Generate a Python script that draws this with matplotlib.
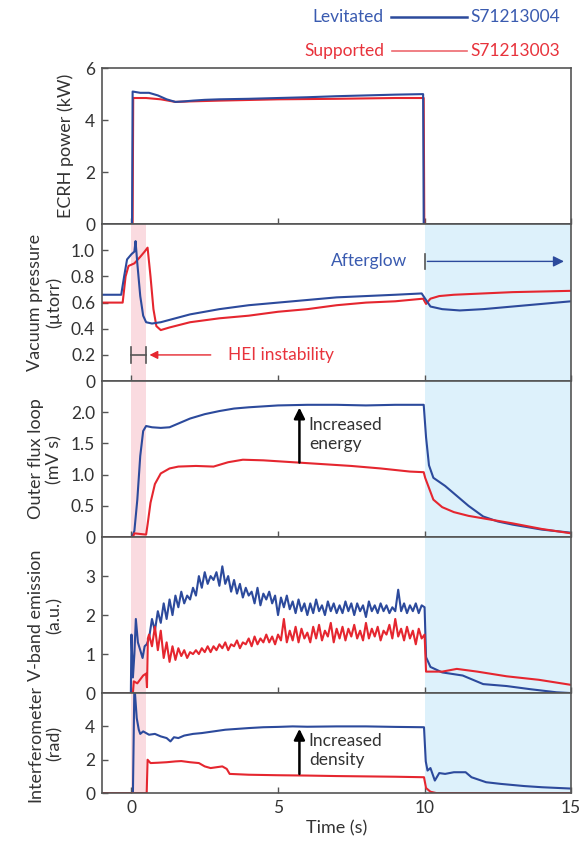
import matplotlib
matplotlib.use("Agg")
import matplotlib.pyplot as plt
from matplotlib.lines import Line2D
import numpy as np

plt.rcParams['font.family'] = ['Lato', 'DejaVu Sans']

BLUE = '#2c4a9c'
RED = '#e5262f'
BLUE_TXT = '#3a5bb0'
RED_TXT = '#e8333c'
GREY = '#555555'
TXT = '#333333'

# ---- ECRH power (kW)
ecrh_t_lev = [-1, 0.02, 0.04, 0.3, 0.6, 0.9, 1.2, 1.5, 1.8, 2.1, 2.5, 3, 4, 5, 6, 7, 8, 9, 9.95, 9.97, 15]
ecrh_lev = [0, 0, 5.1, 5.05, 5.05, 4.95, 4.8, 4.7, 4.72, 4.75, 4.78, 4.8, 4.82, 4.85, 4.88, 4.92, 4.95, 4.98, 5.0, 0, 0]
ecrh_t_sup = [-1, 0.04, 0.06, 0.5, 1.0, 1.5, 2, 3, 5, 7, 9, 9.97, 9.99, 15]
ecrh_sup = [0, 0, 4.85, 4.85, 4.8, 4.7, 4.72, 4.75, 4.8, 4.82, 4.85, 4.85, 0, 0]

# ---- vacuum pressure (utorr)
pres_t_lev = [-1, -0.35, -0.25, -0.15, 0.0, 0.1, 0.14, 0.2, 0.3, 0.4, 0.5, 0.7, 1.0, 1.5, 2, 3, 4, 5, 6, 7, 8, 9,
              9.9, 10.05, 10.2, 10.6, 11.2, 12, 13, 14, 15]
pres_lev = [0.66, 0.66, 0.8, 0.93, 0.97, 0.99, 1.07, 0.9, 0.65, 0.5, 0.45, 0.44, 0.45, 0.48, 0.51, 0.55, 0.58,
            0.6, 0.62, 0.64, 0.65, 0.66, 0.67, 0.62, 0.57, 0.55, 0.54, 0.55, 0.57, 0.59, 0.61]
pres_t_sup = [-1, -0.3, -0.2, -0.1, 0.1, 0.3, 0.45, 0.55, 0.65, 0.75, 0.85, 1.0, 1.3, 2, 3, 4, 5, 6, 7, 8, 9,
              9.95, 10.05, 10.2, 10.5, 11, 12, 13, 14, 15]
pres_sup = [0.6, 0.6, 0.8, 0.88, 0.9, 0.95, 0.99, 1.02, 0.8, 0.55, 0.42, 0.39, 0.41, 0.45, 0.48, 0.5, 0.53,
            0.55, 0.58, 0.6, 0.61, 0.63, 0.59, 0.63, 0.65, 0.66, 0.67, 0.68, 0.685, 0.69]

# ---- outer flux loop (mV s)
flux_t_lev = [-1, 0.02, 0.1, 0.2, 0.3, 0.4, 0.5, 0.7, 1.0, 1.3, 1.6, 2.0, 2.5, 3, 3.5, 4, 5, 6, 7, 8, 9, 9.97,
              10.05, 10.15, 10.3, 10.7, 11.0, 11.5, 12.0, 12.5, 13, 14, 15]
flux_lev = [0, 0, 0.1, 0.6, 1.3, 1.7, 1.78, 1.76, 1.75, 1.76, 1.82, 1.9, 1.97, 2.02, 2.06, 2.08, 2.11, 2.12,
            2.12, 2.11, 2.12, 2.12, 1.6, 1.15, 0.95, 0.82, 0.7, 0.5, 0.33, 0.25, 0.2, 0.12, 0.07]
flux_t_sup = [-1, 0.05, 0.1, 0.5, 0.55, 0.65, 0.8, 1.0, 1.3, 1.6, 2.2, 2.8, 3.3, 3.8, 4.5, 5.5, 6.5, 7.5, 8.5,
              9.5, 9.97, 10.02, 10.1, 10.3, 10.6, 11, 11.5, 12, 12.5, 13, 14, 15]
flux_sup = [0, 0, 0.06, 0.04, 0.2, 0.55, 0.85, 1.02, 1.1, 1.13, 1.14, 1.13, 1.2, 1.24, 1.23, 1.2, 1.17, 1.14,
            1.1, 1.05, 1.04, 0.95, 0.85, 0.6, 0.48, 0.4, 0.34, 0.3, 0.26, 0.22, 0.13, 0.06]

# ---- V-band emission (a.u.)
vb_t_lev_start = [-1, -0.02, 0.0, 0.05, 0.1, 0.15, 0.22, 0.3, 0.38, 0.45, 0.52]
vb_lev_start = [0, 0, 1.5, 0.4, 1.0, 1.9, 1.3, 1.1, 0.9, 1.2, 1.25]
vb_t_mid = [round(0.6 + 0.1 * i, 2) for i in range(95)]
vb_lev_mid = [1.4, 1.9, 1.6, 2.1, 1.8,
              2.3, 1.9, 2.4, 2.0, 2.5, 2.2, 2.6, 2.3, 2.5, 2.4,
              2.7, 2.5, 3.0, 2.7, 3.1, 2.8, 3.0, 2.9, 3.1, 2.75,
              3.25, 2.8, 3.0, 2.6, 2.9, 2.55, 2.8, 2.45, 2.7, 2.5,
              2.6, 2.3, 2.7, 2.25, 2.55, 2.4, 2.6, 2.3, 2.5, 2.0,
              2.45, 2.2, 2.5, 2.15, 2.35, 2.05, 2.4, 2.1, 2.3, 2.0,
              2.3, 2.05, 2.4, 2.1, 2.25, 2.0, 2.35, 2.1, 2.3, 2.05,
              2.25, 2.05, 2.35, 2.1, 2.3, 2.0, 2.3, 2.1, 2.25, 1.95,
              2.35, 2.1, 2.25, 2.05, 2.3, 2.1, 2.25, 2.05, 2.2, 2.1,
              2.65, 2.1, 2.3, 2.05, 2.25, 2.1, 2.3, 2.05, 2.25, 2.2]
vb_t_lev_end = [10.05, 10.2, 10.6, 11.3, 12, 12.8, 13.6, 14.5, 15]
vb_lev_end = [0.92, 0.67, 0.53, 0.45, 0.23, 0.18, 0.1, 0.02, 0.0]

vb_t_sup_start = [-1, 0.05, 0.08, 0.2, 0.3, 0.4, 0.5, 0.53, 0.56]
vb_sup_start = [0, 0, 0.3, 0.25, 0.35, 0.45, 0.5, 0.15, 1.4]
vb_sup_mid = [1.5, 1.2, 1.7, 1.1, 1.6,
              0.9, 1.3, 0.8, 1.2, 0.85, 1.15, 0.95, 1.1, 0.9, 1.05,
              1.0, 1.1, 1.0, 1.15, 1.05, 1.2, 1.05, 1.2, 1.1, 1.25,
              1.15, 1.3, 1.1, 1.25, 1.2, 1.35, 1.15, 1.3, 1.25, 1.4,
              1.2, 1.45, 1.25, 1.4, 1.3, 1.5, 1.3, 1.45, 1.25, 1.5,
              1.35, 1.9, 1.3, 1.6, 1.35, 1.7, 1.3, 1.65, 1.4, 1.55,
              1.3, 1.7, 1.4, 1.75, 1.35, 1.6, 1.45, 1.8, 1.3, 1.65,
              1.4, 1.7, 1.35, 1.65, 1.45, 1.75, 1.4, 1.6, 1.35, 1.8,
              1.4, 1.65, 1.45, 1.7, 1.35, 1.6, 1.5, 1.75, 1.4, 1.9,
              1.45, 1.65, 1.35, 1.7, 1.4, 1.6, 1.25, 1.65, 1.4, 1.5]
vb_t_sup_end = [10.05, 10.6, 11.1, 11.8, 12.8, 13.9, 15]
vb_sup_end = [0.55, 0.55, 0.62, 0.55, 0.43, 0.34, 0.21]

# ---- interferometer (rad)
int_t_lev = [-1, 0.05, 0.1, 0.18, 0.25, 0.3, 0.4, 0.5, 0.6, 0.8, 1.0, 1.2, 1.33, 1.45, 1.6, 1.8, 2.1, 2.4, 2.8,
             3.2, 3.6, 4.0, 4.5, 5, 5.5, 6, 7, 8, 9, 9.98, 10.04, 10.1, 10.2, 10.35, 10.5, 10.7, 11.0, 11.4,
             11.6, 12.1, 12.6, 13.4, 14, 15]
int_lev = [0, 0, 6.5, 4.5, 3.8, 3.55, 3.7, 3.6, 3.5, 3.55, 3.4, 3.3, 3.1, 3.35, 3.3, 3.45, 3.55, 3.6, 3.7,
           3.8, 3.85, 3.9, 3.95, 3.97, 4.0, 3.98, 4.0, 4.0, 3.97, 3.95, 1.9, 1.35, 1.5, 0.75, 1.2, 1.15, 1.25,
           1.25, 0.95, 0.65, 0.55, 0.42, 0.35, 0.27]
int_t_sup = [-1, 0.52, 0.55, 0.65, 0.9, 1.2, 1.5, 1.7, 2.0, 2.3, 2.5, 2.7, 2.9, 3.1, 3.25, 3.35, 4, 5, 6, 7, 8,
             9, 9.98, 10.05, 10.2, 10.4, 15]
int_sup = [0, 0, 2.0, 1.8, 1.82, 1.85, 1.9, 1.92, 1.85, 1.8, 1.6, 1.5, 1.55, 1.6, 1.45, 1.15, 1.1, 1.07, 1.05,
           1.02, 1.0, 0.98, 0.95, 0.3, 0.08, 0, 0]

fig = plt.figure(figsize=(5.87, 8.41), dpi=100)
gs = fig.add_gridspec(5, 1, height_ratios=[156, 157, 156, 156, 100], hspace=0)
fig.subplots_adjust(left=0.174, right=0.973, top=0.919, bottom=0.057)
axs = [fig.add_subplot(gs[i]) for i in range(5)]

lw = 1.5
axs[0].plot(ecrh_t_sup, ecrh_sup, color=RED, lw=lw)
axs[0].plot(ecrh_t_lev, ecrh_lev, color=BLUE, lw=lw)
axs[1].plot(pres_t_sup, pres_sup, color=RED, lw=lw)
axs[1].plot(pres_t_lev, pres_lev, color=BLUE, lw=lw)
axs[2].plot(flux_t_lev, flux_lev, color=BLUE, lw=lw)
axs[2].plot(flux_t_sup, flux_sup, color=RED, lw=lw)
axs[3].plot(vb_t_lev_start + vb_t_mid + vb_t_lev_end, vb_lev_start + vb_lev_mid + vb_lev_end, color=BLUE, lw=lw)
axs[3].plot(vb_t_sup_start + vb_t_mid + vb_t_sup_end, vb_sup_start + vb_sup_mid + vb_sup_end, color=RED, lw=lw)
axs[4].plot(int_t_lev, int_lev, color=BLUE, lw=lw)
axs[4].plot(int_t_sup, int_sup, color=RED, lw=lw)

ylims = [(0, 6), (0, 1.2), (0, 2.5), (0, 4), (0, 6)]
yticks = [[0, 2, 4, 6], [0, 0.2, 0.4, 0.6, 0.8, 1.0], [0, 0.5, 1.0, 1.5, 2.0], [0, 1, 2, 3], [0, 2, 4]]
ytlabels = [['0', '2', '4', '6'], ['0', '0.2', '0.4', '0.6', '0.8', '1.0'],
            ['0', '0.5', '1.0', '1.5', '2.0'], ['0', '1', '2', '3'], ['0', '2', '4']]
ylabels = ['ECRH power (kW)', 'Vacuum pressure\n(\u00b5torr)', 'Outer flux loop\n(mV s)',
           'V-band emission\n(a.u.)', 'Interferometer\n(rad)']
label_x = [-0.06, -0.085, -0.085, -0.085, -0.085]

for i, ax in enumerate(axs):
    ax.set_xlim(-1, 15)
    ax.set_ylim(*ylims[i])
    ax.set_yticks(yticks[i])
    ax.set_yticklabels(ytlabels[i])
    ax.set_xticks([0, 5, 10, 15])
    ax.tick_params(direction='in', length=4, width=1, color=GREY, labelsize=12.5, labelcolor=TXT, pad=5)
    if i < 4:
        ax.tick_params(labelbottom=False)
    for s in ax.spines.values():
        s.set_color(GREY)
        s.set_linewidth(1.2)
    ax.set_ylabel(ylabels[i], fontsize=13, color=TXT, linespacing=1.2)
    ax.yaxis.set_label_coords(label_x[i], 0.5)
    if i > 0:
        ax.axvspan(0, 0.5, color='#fadbe0', lw=0, zorder=0)
        ax.axvspan(10, 15, color='#ddf1fb', lw=0, zorder=0)

axs[4].set_xlabel('Time (s)', fontsize=13, color=TXT, labelpad=3)

# afterglow
ax = axs[1]
ax.text(9.4, 0.915, 'Afterglow', color=BLUE_TXT, fontsize=12.5, ha='right', va='center')
ax.plot([10, 10], [0.86, 0.97], color=GREY, lw=1.2)
ax.annotate('', xy=(14.85, 0.915), xytext=(10, 0.915),
            arrowprops=dict(arrowstyle='-|>', color=BLUE, lw=1, mutation_scale=16))
# HEI instability
ax.plot([0, 0], [0.14, 0.26], color=GREY, lw=1.2)
ax.plot([0.5, 0.5], [0.14, 0.26], color=GREY, lw=1.2)
ax.plot([0, 0.5], [0.2, 0.2], color=GREY, lw=1.2)
ax.annotate('', xy=(0.52, 0.2), xytext=(2.8, 0.2),
            arrowprops=dict(arrowstyle='-|>', color=RED, lw=1, mutation_scale=12))
ax.text(3.3, 0.2, 'HEI instability', color=RED_TXT, fontsize=12.5, ha='left', va='center')

# increased energy
axs[2].annotate('', xy=(5.73, 2.12), xytext=(5.73, 1.15),
                arrowprops=dict(arrowstyle='-|>', color='black', lw=1.8, mutation_scale=16))
axs[2].text(6.05, 1.65, 'Increased\nenergy', color=TXT, fontsize=12.5, ha='left', va='center', linespacing=1.25)

# increased density
axs[4].annotate('', xy=(5.73, 4.02), xytext=(5.73, 0.98),
                arrowprops=dict(arrowstyle='-|>', color='black', lw=1.8, mutation_scale=16))
axs[4].text(6.05, 2.55, 'Increased\ndensity', color=TXT, fontsize=12.5, ha='left', va='center', linespacing=1.25)

# legend at top
fig.text(384 / 587, 1 - 17 / 841, 'Levitated', color=BLUE_TXT, fontsize=12.5, ha='right', va='center')
fig.text(470 / 587, 1 - 17 / 841, 'S71213004', color=BLUE_TXT, fontsize=12.5, ha='left', va='center')
fig.add_artist(Line2D([391 / 587, 467 / 587], [1 - 17 / 841] * 2, color=BLUE, lw=1.8, transform=fig.transFigure))
fig.text(384 / 587, 1 - 51 / 841, 'Supported', color=RED_TXT, fontsize=12.5, ha='right', va='center')
fig.text(470 / 587, 1 - 51 / 841, 'S71213003', color=RED_TXT, fontsize=12.5, ha='left', va='center')
fig.add_artist(Line2D([392 / 587, 467 / 587], [1 - 51 / 841] * 2, color='#ee6a70', lw=1.2, transform=fig.transFigure))

fig.savefig('out.png', dpi=100)
